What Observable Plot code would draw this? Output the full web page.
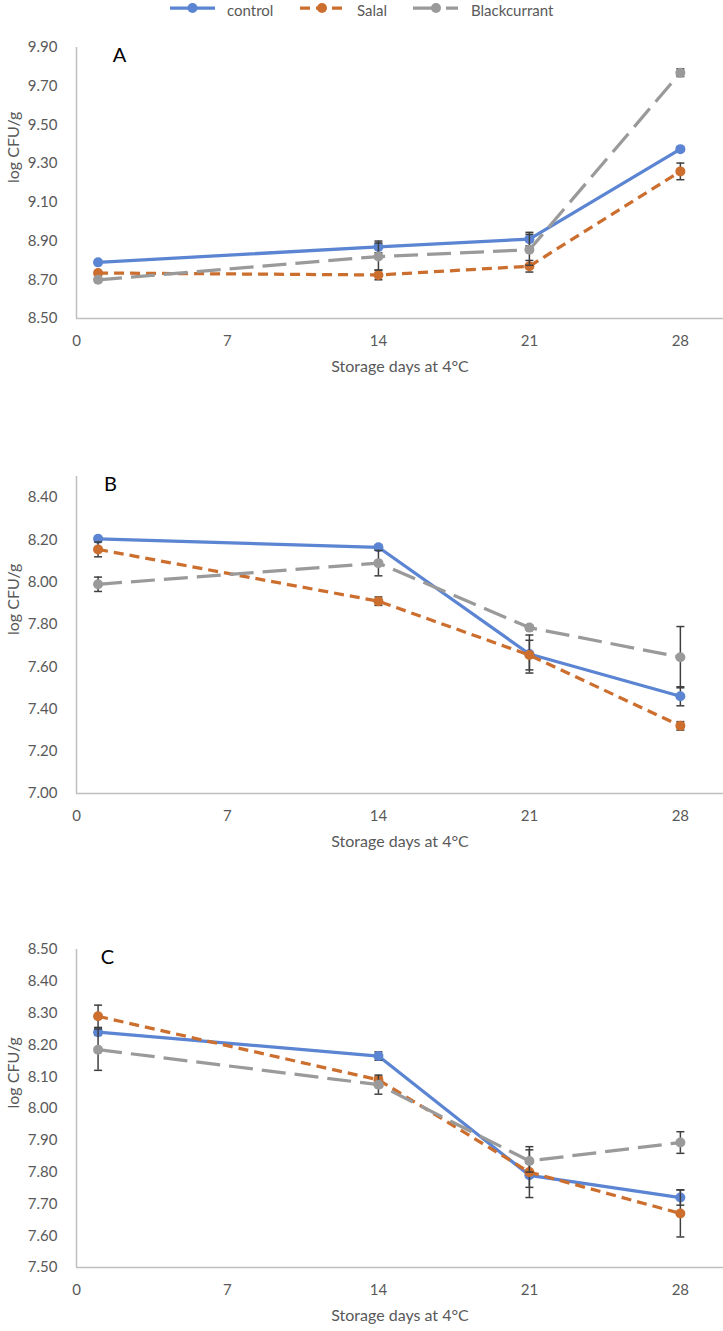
<!DOCTYPE html>
<html>
<head>
<meta charset="utf-8">
<script src="https://cdn.jsdelivr.net/npm/d3@7"></script>
<script src="https://cdn.jsdelivr.net/npm/@observablehq/plot@0.6"></script>
<style>
  html, body { margin: 0; padding: 0; background: #fff; overflow: hidden; }
  #legend { display: block; }
</style>
</head>
<body>
<div id="legend"></div>
<div id="charts"></div>
<script>
// ---------- data ----------
const days = [1, 14, 21, 28];
const xTicks = [0, 7, 14, 21, 28];
const seriesNames = ["control", "Salal", "Blackcurrant"];
const xTitle = "Storage days at 4°C";
const yTitle = "log CFU/g";
const panelLabels = ["A", "B", "C"];

// Panel A
const yTicksA = [8.5, 8.7, 8.9, 9.1, 9.3, 9.5, 9.7, 9.9];
const controlA = [8.79, 8.87, 8.91, 9.375];
const controlErrA = [0.01, 0.03, 0.035, 0.01];
const salalA = [8.735, 8.725, 8.77, 9.26];
const salalErrA = [0.01, 0.025, 0.03, 0.043];
const blackA = [8.70, 8.82, 8.855, 9.77];
const blackErrA = [0.01, 0.07, 0.08, 0.02];

// Panel B
const yTicksB = [7.0, 7.2, 7.4, 7.6, 7.8, 8.0, 8.2, 8.4];
const controlB = [8.205, 8.165, 7.66, 7.46];
const controlErrB = [0.01, 0.01, 0.09, 0.045];
const salalB = [8.155, 7.91, 7.655, 7.32];
const salalErrB = [0.035, 0.02, 0.07, 0.02];
const blackB = [7.99, 8.09, 7.785, 7.645];
const blackErrB = [0.034, 0.06, 0.01, 0.145];

// Panel C
const yTicksC = [7.5, 7.6, 7.7, 7.8, 7.9, 8.0, 8.1, 8.2, 8.3, 8.4, 8.5];
const controlC = [8.24, 8.165, 7.79, 7.72];
const controlErrC = [0.01, 0.013, 0.038, 0.024];
const salalC = [8.29, 8.09, 7.80, 7.67];
const salalErrC = [0.035, 0.01, 0.08, 0.074];
const blackC = [8.185, 8.075, 7.835, 7.893];
const blackErrC = [0.065, 0.03, 0.035, 0.034];

// ---------- styles ----------
const colors = {control: "#5B84D2", Salal: "#CC6E2E", Blackcurrant: "#9A9A9A"};
const dashes = {control: null, Salal: "10,6", Blackcurrant: "24,9"};
const textColor = "#595959";
const axisColor = "#BFBFBF";
const errColor = "#3F3F3F";
const FONT = "Lato, 'Open Sans', sans-serif";

const capSymbol = {
  draw(context, size) {
    const r = Math.sqrt(size / Math.PI);
    context.moveTo(-r, 0);
    context.lineTo(r, 0);
  }
};

// ---------- legend ----------
(function legend() {
  const ns = "http://www.w3.org/2000/svg";
  const svg = document.createElementNS(ns, "svg");
  svg.setAttribute("width", 723);
  svg.setAttribute("height", 17);
  svg.style.display = "block";
  const items = [
    {name: "control", x0: 170, x1: 215, dot: 192.5, tx: 227},
    {name: "Salal", x0: 300, x1: 343, dot: 322, tx: 357},
    {name: "Blackcurrant", x0: 413, x1: 458, dot: 436, tx: 471}
  ];
  const cy = 8;
  for (const it of items) {
    const line = document.createElementNS(ns, "line");
    line.setAttribute("x1", it.x0); line.setAttribute("x2", it.x1);
    line.setAttribute("y1", cy); line.setAttribute("y2", cy);
    line.setAttribute("stroke", colors[it.name]);
    line.setAttribute("stroke-width", 3.25);
    if (dashes[it.name]) line.setAttribute("stroke-dasharray", dashes[it.name]);
    svg.appendChild(line);
    const c = document.createElementNS(ns, "circle");
    c.setAttribute("cx", it.dot);
    c.setAttribute("cy", cy); c.setAttribute("r", 5);
    c.setAttribute("fill", colors[it.name]);
    svg.appendChild(c);
    const t = document.createElementNS(ns, "text");
    t.setAttribute("x", it.tx); t.setAttribute("y", 15.5);
    t.setAttribute("font-family", FONT);
    t.setAttribute("font-size", 15);
    t.setAttribute("fill", textColor);
    t.textContent = it.name;
    svg.appendChild(t);
  }
  document.getElementById("legend").appendChild(svg);
})();

// ---------- panels ----------
function panel(opts) {
  const {label, labelDx, yTicks, vals, errs, height, marginTop, marginBottom} = opts;
  const yDomain = [yTicks[0], opts.yMax];
  const rows = [];
  seriesNames.forEach((s, i) => days.forEach((d, j) => rows.push({series: s, day: d, value: vals[i][j], err: errs[i][j]})));
  const marks = [
    Plot.ruleY([yDomain[0]], {stroke: axisColor, strokeWidth: 1.5}),
    Plot.ruleX([0], {stroke: axisColor, strokeWidth: 1.5}),
    Plot.axisX({ticks: xTicks, tickSize: 0, tickPadding: 17, label: null, color: textColor, fontSize: 15}),
    Plot.axisY({ticks: yTicks, tickSize: 0, tickPadding: 19, tickFormat: d3.format(".2f"), label: null, color: textColor, fontSize: 15}),
    Plot.text([xTitle], {frameAnchor: "bottom", dy: 53, fontSize: 16, fill: textColor}),
    Plot.text([yTitle], {frameAnchor: "left", dx: -63, rotate: -90, fontSize: 16, fill: textColor}),
    Plot.text([label], {frameAnchor: "top-left", textAnchor: "middle", lineAnchor: "top", dx: labelDx, dy: 0, fontSize: 20, fill: "#000"})
  ];
  for (const s of seriesNames) {
    const data = rows.filter(r => r.series === s);
    marks.push(Plot.line(data, {x: "day", y: "value", stroke: colors[s], strokeWidth: 3.25, strokeDasharray: dashes[s] || undefined, strokeLinecap: "butt"}));
    marks.push(Plot.ruleX(data, {x: "day", y1: d => d.value - d.err, y2: d => d.value + d.err, stroke: errColor, strokeWidth: 1.5}));
    marks.push(Plot.dot(data, {x: "day", y: d => d.value - d.err, symbol: capSymbol, r: 4, stroke: errColor, strokeWidth: 1.5, fill: "none"}));
    marks.push(Plot.dot(data, {x: "day", y: d => d.value + d.err, symbol: capSymbol, r: 4, stroke: errColor, strokeWidth: 1.5, fill: "none"}));
    marks.push(Plot.dot(data, {x: "day", y: "value", r: 5, fill: colors[s], stroke: "none"}));
  }
  const svg = Plot.plot({
    width: 723,
    height,
    marginLeft: 76,
    marginRight: 0,
    marginTop,
    marginBottom,
    style: {fontFamily: FONT, fontSize: "15px", color: textColor, background: "#fff"},
    x: {domain: [0, 30]},
    y: {domain: yDomain},
    marks
  });
  svg.style.display = "block";
  return svg;
}

const charts = document.getElementById("charts");
charts.appendChild(panel({
  label: panelLabels[0], labelDx: 43, yTicks: yTicksA, yMax: 9.9,
  vals: [controlA, salalA, blackA], errs: [controlErrA, salalErrA, blackErrA],
  height: 368, marginTop: 30, marginBottom: 67
}));
charts.appendChild(panel({
  label: panelLabels[1], labelDx: 34, yTicks: yTicksB, yMax: 8.5,
  vals: [controlB, salalB, blackB], errs: [controlErrB, salalErrB, blackErrB],
  height: 475, marginTop: 91, marginBottom: 67
}));
charts.appendChild(panel({
  label: panelLabels[2], labelDx: 31, yTicks: yTicksC, yMax: 8.5,
  vals: [controlC, salalC, blackC], errs: [controlErrC, salalErrC, blackErrC],
  height: 471, marginTop: 89, marginBottom: 64
}));
</script>
</body>
</html>
